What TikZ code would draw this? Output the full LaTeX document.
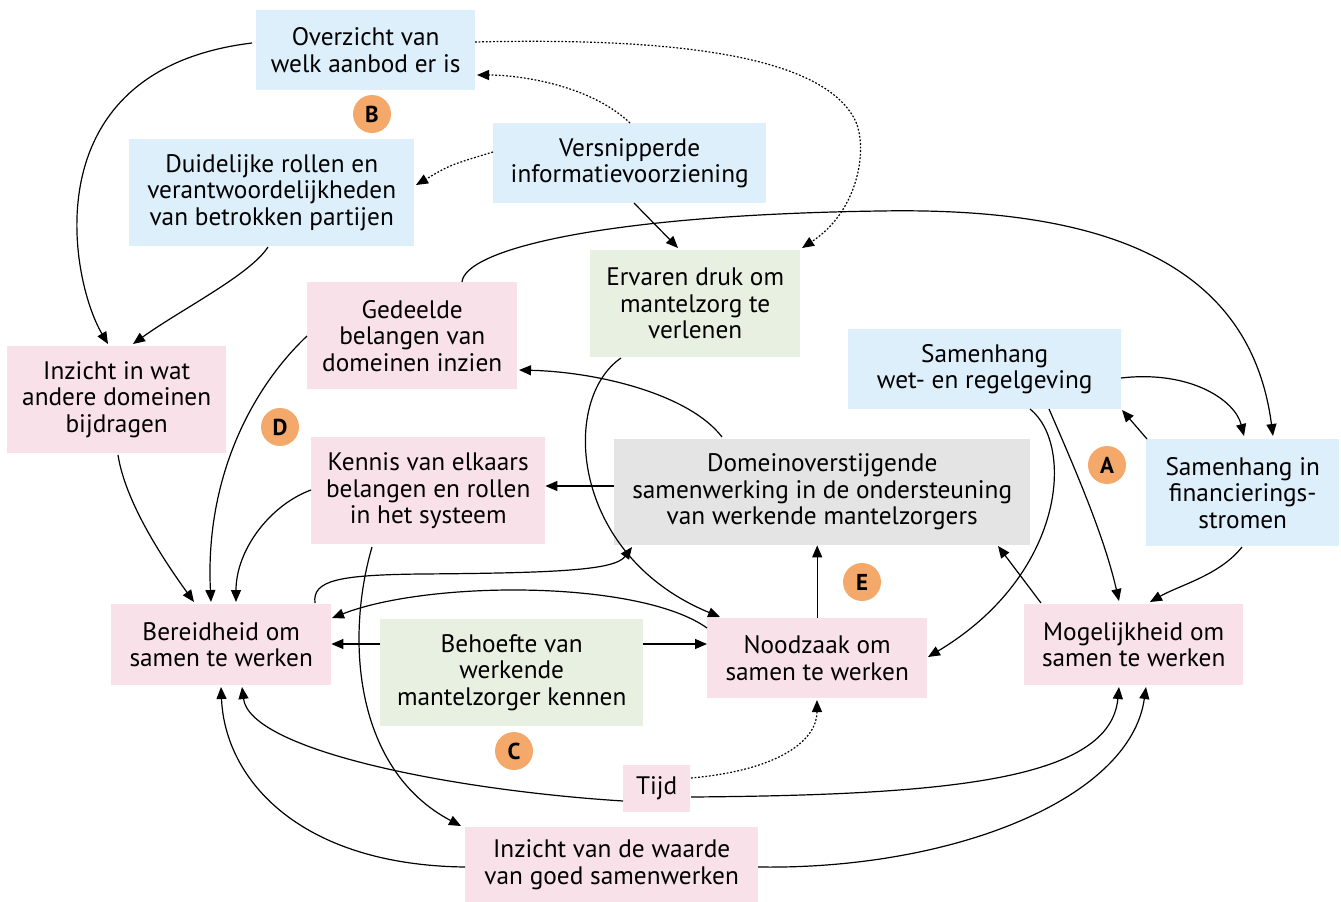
\documentclass[tikz,border=0pt]{standalone}
\usepackage{fontspec}
\setmainfont{PT Sans}
\usetikzlibrary{arrows.meta,calc}
\definecolor{cblue}{RGB}{222,239,252}
\definecolor{cpink}{RGB}{249,225,233}
\definecolor{cgreen}{RGB}{232,240,226}
\definecolor{cgray}{RGB}{228,228,228}
\definecolor{corange}{RGB}{244,169,106}
\begin{document}
\begin{tikzpicture}[x=1pt,y=-1pt,
  box/.style={anchor=north west,inner sep=0pt,align=center,font=\fontsize{25.3}{26.5}\selectfont},
  bl/.style={box,fill=cblue},
  pk/.style={box,fill=cpink},
  gr/.style={box,fill=cgreen},
  gy/.style={box,fill=cgray},
  badge/.style={circle,fill=corange,minimum size=38pt,inner sep=0pt,font=\fontsize{23}{23}\selectfont\bfseries},
  con/.style={line width=1.2pt,-{Triangle[length=12pt,width=10pt]}},
  dot/.style={con,dash pattern=on 1.8pt off 1.8pt}]
\useasboundingbox (0,0) rectangle (1341,902);
% boxes
\node[bl,minimum width=219pt,minimum height=80pt] (ovz) at (256,10) {Overzicht van\\welk aanbod er is};
\node[bl,minimum width=285pt,minimum height=107pt] (dui) at (129,139) {Duidelijke rollen en\\verantwoordelijkheden\\van betrokken partijen};
\node[bl,minimum width=273pt,minimum height=80pt] (ver) at (493,123) {Versnipperde\\informatievoorziening};
\node[gr,minimum width=210pt,minimum height=107pt] (erv) at (590,250) {Ervaren druk om\\mantelzorg te\\verlenen};
\node[pk,minimum width=210pt,minimum height=107pt] (ged) at (307,282) {Gedeelde\\belangen van\\domeinen inzien};
\node[pk,minimum width=219pt,minimum height=107pt] (iwa) at (7,346) {Inzicht in wat\\andere domeinen\\bijdragen};
\node[pk,minimum width=234pt,minimum height=107pt] (ken) at (311,437) {Kennis van elkaars\\belangen en rollen\\in het systeem};
\node[gy,minimum width=416pt,minimum height=106pt] (dom) at (614,439) {Domeinoverstijgende\\samenwerking in de ondersteuning\\van werkende mantelzorgers};
\node[bl,minimum width=273pt,minimum height=80pt] (swr) at (848,329) {Samenhang\\wet- en regelgeving};
\node[bl,minimum width=193pt,minimum height=107pt] (sfs) at (1146,439) {Samenhang in\\financierings-\\stromen};
\node[pk,minimum width=220pt,minimum height=81pt] (ber) at (111,604) {Bereidheid om\\samen te werken};
\node[gr,minimum width=263pt,minimum height=107pt] (beh) at (380,619) {Behoefte van\\werkende\\mantelzorger kennen};
\node[pk,minimum width=220pt,minimum height=80pt] (noo) at (707,618) {Noodzaak om\\samen te werken};
\node[pk,minimum width=219pt,minimum height=81pt] (mog) at (1024,604) {Mogelijkheid om\\samen te werken};
\node[pk,minimum width=67pt,minimum height=47pt] (tij) at (623,765) {Tijd};
\node[pk,minimum width=293pt,minimum height=75pt] (ivw) at (465,827) {Inzicht van de waarde\\van goed samenwerken};
% badges
\node[badge] (bB) at (372,114) {B};
\node[badge] (bD) at (280,427) {D};
\node[badge] (bA) at (1107,465) {A};
\node[badge] (bE) at (862,582) {E};
\node[badge] (bC) at (514,751) {C};
% connectors
\draw[con] ($(ovz.north west)+(-4,33)$) .. controls (30,70) and (70,280) .. ($(iwa.north west)+(101,-2)$);
\draw[con] ($(dui.north west)+(139,108)$) .. controls (250,275) and (180,310) .. ($(iwa.north west)+(126,-2)$);
\draw[dot] ($(ver.north west)+(137,0)$) .. controls (590,85) and (520,75) .. ($(ovz.north west)+(221,65)$);
\draw[dot] ($(ver.north west)+(0,29)$) .. controls (450,165) .. ($(dui.north west)+(287,46)$);
\draw[dot] ($(ovz.north west)+(219,32)$) .. controls (650,38) and (820,50) .. (855,120) .. controls (868,146) and (860,210) .. ($(erv.north west)+(212,-2)$);
\draw[con] ($(ver.north west)+(141,80)$) -- ($(erv.north west)+(88,-2)$);
\draw[con] ($(ged.north west)+(155,0)$) .. controls (465,250) and (600,215) .. (880,211) .. controls (1100,207) and (1250,260) .. ($(sfs.north west)+(127,-3)$);
\draw[con] ($(ged.north west)+(0,54)$) .. controls (250,390) and (205,480) .. ($(ber.north west)+(100,-2)$);
\draw[con] ($(iwa.north west)+(111,109)$) .. controls (125,500) and (160,555) .. ($(ber.north west)+(83,-2)$);
\draw[con] ($(ken.north west)+(0,53)$) .. controls (270,505) and (236,550) .. ($(ber.north west)+(125,-2)$);
\coordinate (k1) at ($(dom.north west)+(0,47)$);
\draw[con] (k1) -- (k1 -| ken.east);
\draw[con] ($(dom.north west)+(108,-2)$) .. controls (690,395) and (600,372) .. ($(ged.north west)+(212,88)$);
\draw[con] ($(erv.north west)+(31,108)$) .. controls (560,400) and (570,555) .. ($(noo.north west)+(13,-1)$);
\draw[con] ($(swr.north west)+(182,80)$) .. controls (1075,445) and (1065,575) .. ($(noo.north west)+(221,39)$);
\draw[con] ($(swr.north west)+(201,80)$) .. controls (1080,480) and (1105,540) .. ($(mog.north west)+(95,-3)$);
\draw[con] ($(swr.north west)+(273,49)$) .. controls (1190,370) and (1235,400) .. ($(sfs.north west)+(98,-3)$);
\draw[con] ($(sfs.north west)+(1,0)$) -- ($(swr.north west)+(274,81)$);
\draw[con] ($(sfs.north west)+(96,108)$) .. controls (1220,575) and (1180,585) .. ($(mog.north west)+(126,-2)$);
\draw[con] ($(mog.north west)+(17,-1)$) -- ($(dom.north west)+(384,107)$);
\draw[con] (noo.north) -- (noo.north |- dom.south);
\draw[con] ($(ber.north west)+(204,-1)$) .. controls (312,580) and (340,575) .. (420,574) .. controls (560,573) and (615,570) .. ($(dom.north west)+(18,108)$);
\draw[con] ($(noo.north west)+(0,10)$) .. controls (640,580) and (430,580) .. ($(ber.north west)+(221,14)$);
\coordinate (h1) at ($(beh.north west)+(0,25)$);
\draw[con] (h1) -- (h1 -| ber.east);
\coordinate (h2) at ($(beh.north east)+(0,25)$);
\draw[con] (h2) -- (h2 -| noo.west);
\draw[con] ($(ken.north west)+(61,110)$) .. controls (345,640) and (355,770) .. ($(ivw.north west)+(-4,-1)$);
\draw[dot] ($(tij.north west)+(68,13)$) .. controls (780,770) and (817,740) .. ($(noo.north west)+(110,82)$);
\draw[con] ($(tij.north west)+(0,36)$) .. controls (450,790) and (250,750) .. ($(ber.north west)+(131,83)$);
\draw[con] ($(tij.north west)+(68,32)$) .. controls (950,795) and (1110,780) .. ($(mog.north west)+(95,83)$);
\draw[con] ($(ivw.north west)+(0,40)$) .. controls (300,865) and (225,780) .. ($(ber.north west)+(110,83)$);
\draw[con] ($(ivw.north west)+(293,40)$) .. controls (950,870) and (1130,800) .. ($(mog.north west)+(122,83)$);
\end{tikzpicture}
\end{document}
